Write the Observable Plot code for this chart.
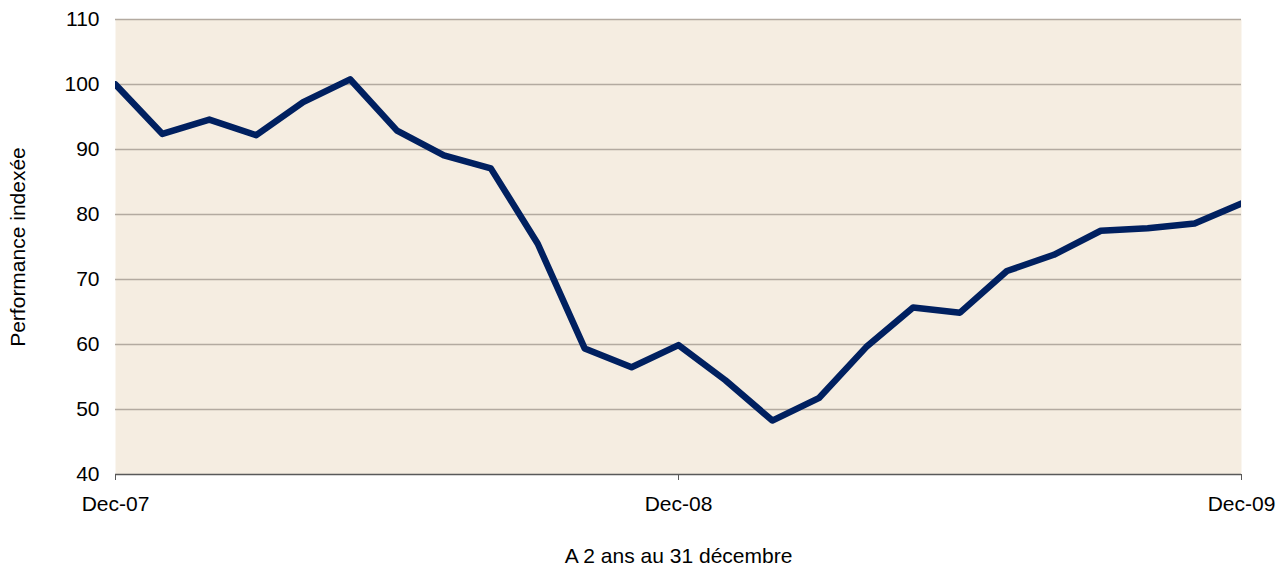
<!DOCTYPE html>
<html>
<head>
<meta charset="utf-8">
<script src="https://cdn.jsdelivr.net/npm/d3@7"></script>
<script src="https://cdn.jsdelivr.net/npm/@observablehq/plot@0.6"></script>
<style>
  html, body { margin: 0; padding: 0; background: #fff; }
</style>
</head>
<body>
<div id="chart"></div>
<script>
const months = ["Dec-07","Jan-08","Feb-08","Mar-08","Apr-08","May-08","Jun-08","Jul-08","Aug-08","Sep-08","Oct-08","Nov-08",
                "Dec-08","Jan-09","Feb-09","Mar-09","Apr-09","May-09","Jun-09","Jul-09","Aug-09","Sep-09","Oct-09","Nov-09","Dec-09"];
const values = [100, 92.4, 94.6, 92.2, 97.3, 100.8, 92.9, 89.1, 87.1, 75.5, 59.4, 56.5,
                59.9, 54.5, 48.3, 51.8, 59.6, 65.7, 64.9, 71.3, 73.8, 77.5, 77.9, 78.6, 81.7];
const yTicks = [40, 50, 60, 70, 80, 90, 100, 110];
const gridTicks = [50, 60, 70, 80, 90, 100, 110];
const xTicks = ["Dec-07", "Dec-08", "Dec-09"];
const yLabel = "Performance indexée";
const xLabel = "A 2 ans au 31 décembre";

const data = months.map((m, i) => ({idx: i, month: m, value: values[i]}));
const xTickIdx = xTicks.map(t => months.indexOf(t));

const chart = Plot.plot({
  width: 1288,
  height: 570,
  marginLeft: 115,
  marginRight: 47,
  marginTop: 19,
  marginBottom: 96,
  style: {fontFamily: "'Liberation Sans', Arial, sans-serif", fontSize: "21px", color: "#000", background: "#fff"},
  x: {type: "linear", domain: [0, months.length - 1]},
  y: {domain: [40, 110]},
  marks: [
    Plot.frame({fill: "#F5EDE1", stroke: null}),
    Plot.ruleY(gridTicks, {stroke: "#B3AAA0", strokeWidth: 1.3}),
    Plot.ruleY([40], {stroke: "#595959", strokeWidth: 1.5}),
    Plot.axisY({ticks: yTicks, tickSize: 0, tickPadding: 16, label: yLabel, labelArrow: "none", labelAnchor: "center", labelOffset: 105}),
    Plot.axisX({ticks: xTickIdx, tickFormat: i => months[i], tickSize: 6, tickPadding: 16, stroke: "#595959",
                label: xLabel, labelArrow: "none", labelAnchor: "center", labelOffset: 88}),
    Plot.line(data, {x: "idx", y: "value", stroke: "#002060", strokeWidth: 6.5, clip: true})
  ]
});
document.getElementById("chart").appendChild(chart);
</script>
</body>
</html>
